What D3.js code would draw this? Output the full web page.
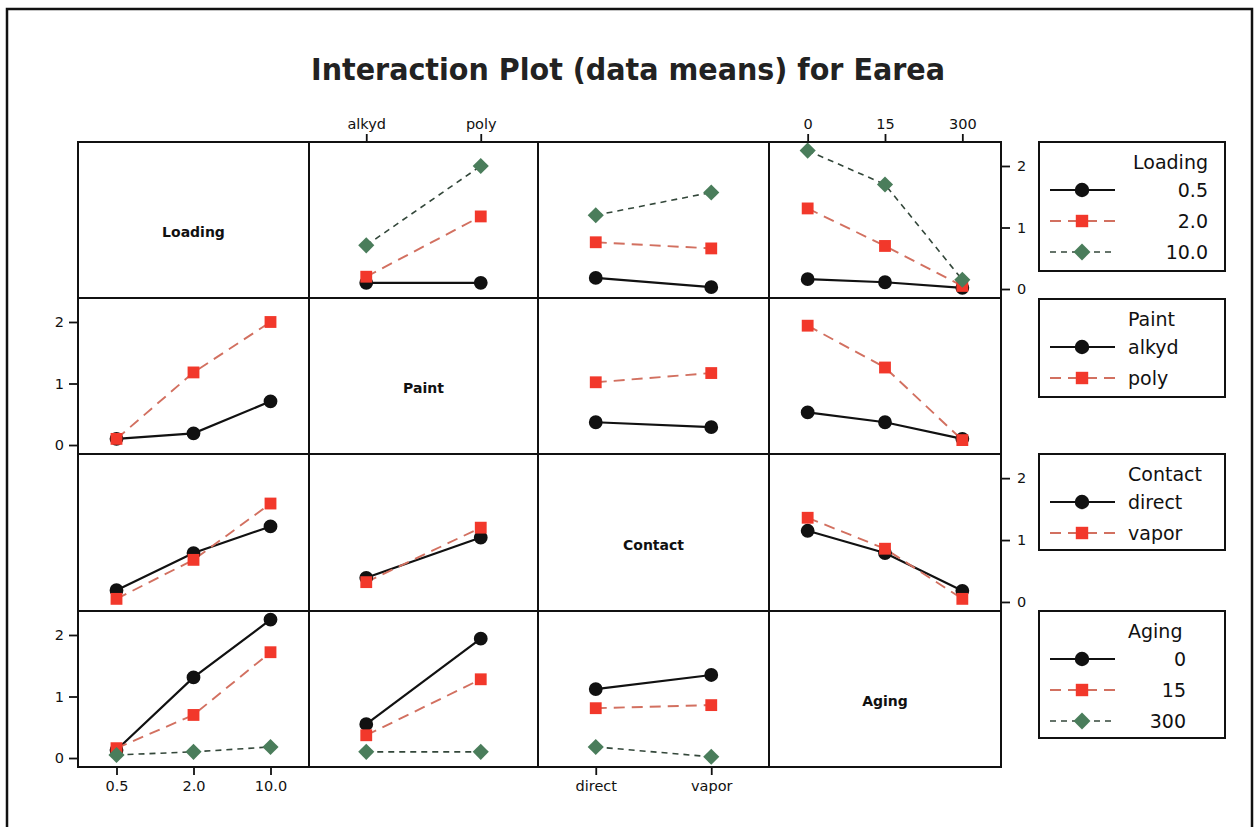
<!DOCTYPE html>
<html>
<head>
<meta charset="utf-8">
<script src="https://cdn.jsdelivr.net/npm/d3@7"></script>
<style>
  html, body { margin: 0; padding: 0; background: #fff; }
  svg { display: block; }
  text { font-family: "DejaVu Sans", Verdana, sans-serif; fill: #111; }
</style>
</head>
<body>
<svg id="chart" width="1255" height="827"></svg>
<script>
// ---------------- DATA ----------------
const factorNames = ["Loading", "Paint", "Contact", "Aging"];
const loadingLevels = ["0.5", "2.0", "10.0"];
const paintLevels = ["alkyd", "poly"];
const contactLevels = ["direct", "vapor"];
const agingLevels = ["0", "15", "300"];
const yTicks = [0, 1, 2];

// Row: Loading traces (0.5, 2.0, 10.0)
const loadingByPaint   = [[0.10, 0.10], [0.20, 1.18], [0.71, 2.00]];
const loadingByContact = [[0.18, 0.03], [0.76, 0.66], [1.20, 1.57]];
const loadingByAging   = [[0.16, 0.11, 0.02], [1.31, 0.70, 0.05], [2.25, 1.70, 0.15]];
// Row: Paint traces (alkyd, poly)
const paintByLoading   = [[0.10, 0.19, 0.71], [0.10, 1.18, 2.00]];
const paintByContact   = [[0.37, 0.29], [1.02, 1.17]];
const paintByAging     = [[0.53, 0.37, 0.10], [1.94, 1.26, 0.08]];
// Row: Contact traces (direct, vapor)
const contactByLoading = [[0.19, 0.79, 1.22], [0.05, 0.68, 1.59]];
const contactByPaint   = [[0.39, 1.04], [0.32, 1.20]];
const contactByAging   = [[1.15, 0.79, 0.18], [1.36, 0.86, 0.05]];
// Row: Aging traces (0, 15, 300)
const agingByLoading   = [[0.13, 1.31, 2.25], [0.16, 0.70, 1.72], [0.05, 0.10, 0.18]];
const agingByPaint     = [[0.55, 1.94], [0.37, 1.28], [0.10, 0.10]];
const agingByContact   = [[1.12, 1.35], [0.81, 0.86], [0.18, 0.02]];

// ---------------- LAYOUT ----------------
const levels = [loadingLevels, paintLevels, contactLevels, agingLevels];
const panelData = {
  "0-1": loadingByPaint, "0-2": loadingByContact, "0-3": loadingByAging,
  "1-0": paintByLoading, "1-2": paintByContact, "1-3": paintByAging,
  "2-0": contactByLoading, "2-1": contactByPaint, "2-3": contactByAging,
  "3-0": agingByLoading, "3-1": agingByPaint, "3-2": agingByContact
};
const colEdges = [78, 309, 538, 769, 1001];
const rowEdges = [142, 298, 454, 611, 767];
const yDomain = [-0.146, 2.39];

// square diamond (rotated square)
const symbolRhombus = {
  draw(ctx, size) {
    const r = Math.sqrt(size / 2);
    ctx.moveTo(0, -r); ctx.lineTo(r, 0); ctx.lineTo(0, r); ctx.lineTo(-r, 0); ctx.closePath();
  }
};

const styles = [
  { line: "#111111", dash: null, width: 2.2, fill: "#111111", sym: d3.symbolCircle, size: 150 },
  { line: "#d27060", dash: "11,7", width: 1.9, fill: "#f2382b", sym: d3.symbolSquare, size: 140 },
  { line: "#33473a", dash: "6,5", width: 1.6, fill: "#4a7d5b", sym: symbolRhombus, size: 130 }
];

const svg = d3.select("#chart");

// outer frame
svg.append("rect").attr("x", 7).attr("y", 9).attr("width", 1245).attr("height", 830)
  .attr("fill", "none").attr("stroke", "#111").attr("stroke-width", 2.5);

// title
svg.append("text").attr("x", 628).attr("y", 80).attr("text-anchor", "middle")
  .attr("font-size", 30).attr("font-weight", "bold")
  .attr("textLength", 634).attr("lengthAdjust", "spacingAndGlyphs")
  .style("fill", "#222")
  .text("Interaction Plot (data means) for Earea");

const xScales = levels.map((lv, c) => d3.scalePoint().domain(lv).range([colEdges[c], colEdges[c + 1]]).padding(0.5));
const yScales = factorNames.map((f, r) => d3.scaleLinear().domain(yDomain).range([rowEdges[r + 1], rowEdges[r]]));

for (let r = 0; r < 4; r++) {
  for (let c = 0; c < 4; c++) {
    const g = svg.append("g");
    const x0 = colEdges[c], x1 = colEdges[c + 1], y0 = rowEdges[r], y1 = rowEdges[r + 1];
    if (r === c) {
      g.append("text").attr("x", (x0 + x1) / 2).attr("y", (y0 + y1) / 2 + 17)
        .attr("text-anchor", "middle").attr("font-size", 14).attr("font-weight", "bold")
        .text(factorNames[r]);
    } else {
      const data = panelData[r + "-" + c];
      const xs = xScales[c], ys = yScales[r];
      const line = d3.line().x((d, i) => xs(levels[c][i])).y(d => ys(d));
      data.forEach((series, k) => {
        const st = styles[k];
        g.append("path").attr("d", line(series)).attr("fill", "none")
          .attr("stroke", st.line).attr("stroke-width", st.width)
          .attr("stroke-dasharray", st.dash);
      });
      data.forEach((series, k) => {
        const st = styles[k];
        g.selectAll(null).data(series).enter().append("path")
          .attr("d", d3.symbol().type(st.sym).size(st.size))
          .attr("transform", (d, i) => `translate(${xs(levels[c][i])},${ys(d)})`)
          .attr("fill", st.fill);
      });
    }
    g.append("rect").attr("x", x0).attr("y", y0).attr("width", x1 - x0).attr("height", y1 - y0)
      .attr("fill", "none").attr("stroke", "#111").attr("stroke-width", 2);
  }
}

function styleAxis(sel) {
  sel.select(".domain").remove();
  sel.selectAll(".tick line").attr("stroke", "#111").attr("stroke-width", 1.8);
  sel.selectAll(".tick text").attr("font-size", 14.5).attr("font-family", "DejaVu Sans, sans-serif").style("fill", "#111");
}

// Y axes: left for rows 1,3; right for rows 0,2
[1, 3].forEach(r => {
  svg.append("g").attr("transform", `translate(${colEdges[0]},0)`)
    .call(d3.axisLeft(yScales[r]).tickValues(yTicks).tickSize(9).tickPadding(5).tickFormat(d3.format("d")))
    .call(styleAxis);
});
[0, 2].forEach(r => {
  svg.append("g").attr("transform", `translate(${colEdges[4]},0)`)
    .call(d3.axisRight(yScales[r]).tickValues(yTicks).tickSize(9).tickPadding(7).tickFormat(d3.format("d")))
    .call(styleAxis);
});
// X axes: top for cols 1,3; bottom for cols 0,2
[1, 3].forEach(c => {
  svg.append("g").attr("transform", `translate(0,${rowEdges[0]})`)
    .call(d3.axisTop(xScales[c]).tickSize(8).tickPadding(5))
    .call(styleAxis);
});
[0, 2].forEach(c => {
  svg.append("g").attr("transform", `translate(0,${rowEdges[4]})`)
    .call(d3.axisBottom(xScales[c]).tickSize(8).tickPadding(6))
    .call(styleAxis);
});

// Legends
const legendBoxes = [
  { y0: 142, y1: 271, anchor: "end", tx: 1208, titleAnchor: "end", titleX: 1208 },
  { y0: 299, y1: 397, anchor: "start", tx: 1128, titleAnchor: "start", titleX: 1128 },
  { y0: 454, y1: 550, anchor: "start", tx: 1128, titleAnchor: "start", titleX: 1128 },
  { y0: 611, y1: 738, anchor: "end", tx: 1186, titleAnchor: "start", titleX: 1128 }
];
legendBoxes.forEach((b, r) => {
  const g = svg.append("g");
  g.append("rect").attr("x", 1039).attr("y", b.y0).attr("width", 186).attr("height", b.y1 - b.y0)
    .attr("fill", "#fff").attr("stroke", "#111").attr("stroke-width", 2);
  g.append("text").attr("x", b.titleX).attr("y", b.y0 + 27).attr("text-anchor", b.titleAnchor)
    .attr("font-size", 19).text(factorNames[r]);
  levels[r].forEach((lv, k) => {
    const st = styles[k];
    const yy = b.y0 + 48 + k * 31;
    g.append("line").attr("x1", 1050).attr("x2", 1115).attr("y1", yy).attr("y2", yy)
      .attr("stroke", st.line).attr("stroke-width", st.width).attr("stroke-dasharray", st.dash);
    g.append("path").attr("d", d3.symbol().type(st.sym).size(st.size * 1.1))
      .attr("transform", `translate(1082,${yy})`).attr("fill", st.fill);
    g.append("text").attr("x", b.tx).attr("y", yy + 7).attr("text-anchor", b.anchor)
      .attr("font-size", 19).text(lv);
  });
});
</script>
</body>
</html>
